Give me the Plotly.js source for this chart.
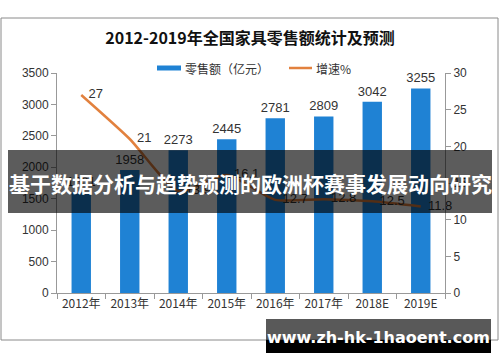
<!DOCTYPE html>
<html>
<head>
<meta charset="utf-8">
<script src="https://cdn.plot.ly/plotly-3.0.1.min.js"></script>
<style>
html,body{margin:0;padding:0;background:#fff;}
#chart{width:500px;height:362px;}
</style>
</head>
<body>
<div id="chart"></div>
<script>
var categories = ['2012年','2013年','2014年','2015年','2016年','2017年','2018E','2019E'];
var sales = [1601, 1958, 2273, 2445, 2781, 2809, 3042, 3255];
var growth = [27, 21, 13.9, 16.1, 12.7, 12.8, 12.5, 11.8];
var salesName = '零售额（亿元）';
var growthName = '增速%';
var titleText = '2012-2019年全国家具零售额统计及预测';
var bannerText = '基于数据分析与趋势预测的欧洲杯赛事发展动向研究';
var siteText = 'www.zh-hk-1haoent.com';

var W = 500, H = 362;
var L = 57, R = 55, T = 73, B = 69;
var pw = W - L - R, ph = H - T - B;
function px(x){ return (x - L) / pw; }
function py(y){ return (H - B - y) / ph; }

var cjk = '"Noto Sans CJK SC", "DejaVu Sans", sans-serif';
var num = '"Liberation Sans", "DejaVu Sans", sans-serif';
var barColor = '#1f82d4';
var lineColor = '#e2813e';

var traces = [
  {
    type: 'bar', x: categories, y: sales, name: salesName,
    marker: {color: barColor},
    text: sales.map(String), textposition: 'outside', cliponaxis: false,
    constraintext: 'none',
    textfont: {family: num, size: 13, color: '#333'},
    hoverinfo: 'x+y', showlegend: false
  },
  {
    type: 'scatter', mode: 'lines+text', x: categories, y: growth, name: growthName,
    yaxis: 'y2',
    line: {color: lineColor, width: 2.5, shape: 'spline', smoothing: 0.6},
    text: growth.map(function(v){ return '\u00a0\u00a0' + v; }),
    textposition: 'middle right', cliponaxis: false,
    textfont: {family: num, size: 13, color: '#333'},
    showlegend: false
  }
];

var layout = {
  width: W, height: H,
  margin: {l: L, r: R, t: T, b: B, pad: 0},
  paper_bgcolor: '#ffffff', plot_bgcolor: '#ffffff',
  bargap: 0.6,
  title: {text: titleText, x: 0.5, xanchor: 'center', y: 1 - 38/H, yanchor: 'middle',
          font: {family: cjk, size: 16, color: '#111', weight: 'bold'}},
  xaxis: {
    type: 'category', showline: true, linecolor: '#999', linewidth: 1,
    ticks: 'outside', tickson: 'boundaries', ticklen: 5, tickcolor: '#999',
    tickfont: {family: cjk, size: 12, color: '#333'}, showgrid: false, zeroline: false
  },
  yaxis: {
    range: [0, 3500], dtick: 500, showline: true, linecolor: '#999', linewidth: 1,
    ticks: 'outside', ticklen: 5, tickcolor: '#999', showgrid: false, zeroline: false,
    tickfont: {family: num, size: 12, color: '#333'}
  },
  yaxis2: {
    range: [0, 30], dtick: 5, overlaying: 'y', side: 'right', showline: true,
    linecolor: '#999', linewidth: 1, ticks: 'outside', ticklen: 5, tickcolor: '#999',
    showgrid: false, zeroline: false,
    tickfont: {family: num, size: 12, color: '#333'}
  },
  shapes: [
    {type: 'rect', xref: 'paper', yref: 'paper', x0: px(1), x1: px(498), y0: py(18), y1: py(340),
     line: {color: '#8a8a8a', width: 1}, fillcolor: 'rgba(0,0,0,0)', layer: 'below'},
    {type: 'line', xref: 'paper', yref: 'paper', x0: px(157), x1: px(181), y0: py(68), y1: py(68),
     line: {color: barColor, width: 5}},
    {type: 'line', xref: 'paper', yref: 'paper', x0: px(289), x1: px(312), y0: py(68), y1: py(68),
     line: {color: lineColor, width: 2.5}},
    {type: 'rect', xref: 'paper', yref: 'paper', x0: px(8), x1: px(492), y0: py(150), y1: py(213),
     line: {width: 0}, fillcolor: 'rgba(0,0,0,0.64)', layer: 'above'},
    {type: 'rect', xref: 'paper', yref: 'paper', x0: px(266), x1: px(491), y0: py(319), y1: py(340),
     line: {width: 0}, fillcolor: 'rgba(0,0,0,0.65)', layer: 'above'},
    {type: 'rect', xref: 'paper', yref: 'paper', x0: px(266), x1: px(491), y0: py(340), y1: py(353),
     line: {width: 0}, fillcolor: '#000000', layer: 'above'}
  ],
  annotations: [
    {xref: 'paper', yref: 'paper', x: px(183), y: py(68), xanchor: 'left', yanchor: 'middle',
     text: salesName, showarrow: false, font: {family: cjk, size: 12, color: '#333'}},
    {xref: 'paper', yref: 'paper', x: px(314), y: py(68), xanchor: 'left', yanchor: 'middle',
     text: growthName, showarrow: false, font: {family: cjk, size: 12, color: '#333'}},
    {xref: 'paper', yref: 'paper', x: px(250), y: py(183), xanchor: 'center', yanchor: 'middle',
     text: bannerText, showarrow: false,
     font: {family: cjk, size: 21, color: '#ffffff', weight: 'bold'}},
    {xref: 'paper', yref: 'paper', x: px(378), y: py(337), xanchor: 'center', yanchor: 'middle',
     text: siteText, showarrow: false,
     font: {family: '"DejaVu Sans", sans-serif', size: 16, color: '#ffffff', weight: 'bold'}}
  ]
};

Plotly.newPlot('chart', traces, layout, {staticPlot: true, displayModeBar: false});
</script>
</body>
</html>
